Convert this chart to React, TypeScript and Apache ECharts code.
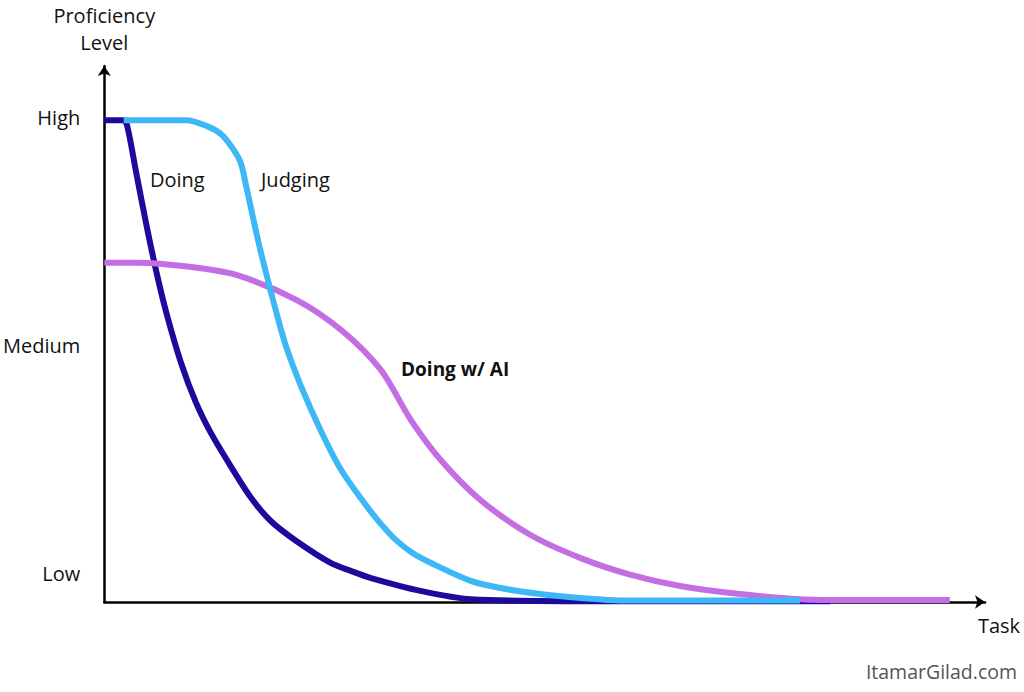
import { useEffect, useRef } from 'react';
import * as echarts from 'echarts';

// task axis 0..100, proficiency axis 0..18.8 (Low = 1, Medium = 9, High = 17)
const doingX = [0, 2.15, 2.6, 3.6, 4.8, 5.9, 7.0, 8.7, 10.4, 12.1, 14.4, 16.6, 18.9, 21.8, 25.7, 28.0, 30.3, 35.9, 41.6, 56.4, 82.4];
const doingY = [16.9, 16.9, 16.7, 15.1, 13.2, 11.6, 10.2, 8.4, 7.0, 5.93, 4.74, 3.68, 2.84, 2.14, 1.37, 1.09, 0.84, 0.39, 0.1, 0.03, 0.03];

const judgingX = [2.2, 9.3, 11.6, 13.3, 14.6, 15.5, 16.1, 16.7, 17.6, 18.4, 19.5, 20.6, 22.3, 24.6, 26.9, 29.7, 31.4, 33.1, 35.0, 37.1, 41.6, 45.0, 49.5, 54.1, 58.6, 67.7, 79.0];
const judgingY = [16.9, 16.9, 16.7, 16.4, 15.9, 15.4, 14.6, 13.75, 12.5, 11.5, 10.2, 9.0, 7.6, 6.0, 4.63, 3.4, 2.74, 2.18, 1.72, 1.37, 0.74, 0.49, 0.28, 0.14, 0.05, 0.05, 0.05];

const aiX = [0, 3.6, 9.9, 15.0, 21.8, 26.9, 31.4, 34.8, 38.2, 42.7, 48.4, 54.1, 59.8, 65.4, 72.2, 79.0, 84.7, 96.0];
const aiY = [11.9, 11.9, 11.75, 11.47, 10.6, 9.54, 8.14, 6.39, 4.98, 3.58, 2.35, 1.54, 0.95, 0.56, 0.28, 0.1, 0.07, 0.07];

const levelValues = [1, 9, 17];
const levelLabels = ['Low', 'Medium', 'High'];

const FONT = '"Open Sans", "Noto Sans", sans-serif';
const zip = (xs: number[], ys: number[]) => xs.map((x, i) => [x, ys[i]]);

export default function App() {
  const chartRef = useRef<HTMLDivElement>(null);

  useEffect(() => {
    if (!chartRef.current) return;
    const chart = echarts.init(chartRef.current, undefined, { renderer: 'svg' });

    const lineSeries = (name: string, data: number[][], color: string) => ({
      name,
      type: 'line',
      data,
      showSymbol: false,
      smooth: 0.3,
      lineStyle: { color, width: 6, cap: 'butt', join: 'round' },
      silent: true,
    });

    chart.setOption({
      animation: false,
      backgroundColor: '#ffffff',
      textStyle: { fontFamily: FONT },
      grid: { left: 103, right: 39, top: 66, bottom: 90 },
      xAxis: {
        type: 'value',
        min: 0,
        max: 100,
        name: 'Task',
        nameLocation: 'end',
        nameGap: 14,
        nameTextStyle: {
          color: '#111',
          fontSize: 20,
          fontFamily: FONT,
          align: 'center',
          verticalAlign: 'top',
          padding: [13, 0, 0, 0],
        },
        axisLine: {
          lineStyle: { color: '#000', width: 2.5 },
          symbol: ['none', 'arrow'],
          symbolSize: [10, 10],
        },
        axisTick: { show: false },
        axisLabel: { show: false },
        splitLine: { show: false },
      },
      yAxis: {
        type: 'value',
        min: 0,
        max: 18.8,
        name: 'Proficiency\nLevel',
        nameLocation: 'end',
        nameGap: 10,
        nameTextStyle: {
          color: '#111',
          fontSize: 20,
          fontFamily: FONT,
          lineHeight: 27,
          align: 'center',
        },
        axisLine: {
          lineStyle: { color: '#000', width: 2.5 },
          symbol: ['none', 'arrow'],
          symbolSize: [10, 10],
        },
        axisTick: { show: false },
        axisLabel: {
          customValues: levelValues,
          formatter: (v: number) => levelLabels[levelValues.indexOf(v)] ?? '',
          color: '#111',
          fontSize: 20,
          fontFamily: FONT,
          margin: 24,
        },
        splitLine: { show: false },
      },
      graphic: [
        { type: 'text', left: 150, top: 169, style: { text: 'Doing', fontSize: 20, fontFamily: FONT, fill: '#111' } },
        { type: 'text', left: 261, top: 169, style: { text: 'Judging', fontSize: 20, fontFamily: FONT, fill: '#111' } },
        { type: 'text', left: 401, top: 359, style: { text: 'Doing w/ AI', fontSize: 19, fontWeight: 'bold', fontFamily: FONT, fill: '#111' } },
        { type: 'text', right: 7, top: 661, style: { text: 'ItamarGilad.com', fontSize: 19.5, fontFamily: FONT, fill: '#555' } },
      ],
      series: [
        lineSeries('Doing', zip(doingX, doingY), '#1c0a9c'),
        lineSeries('Doing w/ AI', zip(aiX, aiY), '#c46ee3'),
        lineSeries('Judging', zip(judgingX, judgingY), '#3db7f5'),
      ],
    });

    return () => chart.dispose();
  }, []);

  return <div ref={chartRef} style={{ position: 'fixed', left: 0, top: 0, width: 1024, height: 692 }} />;
}
